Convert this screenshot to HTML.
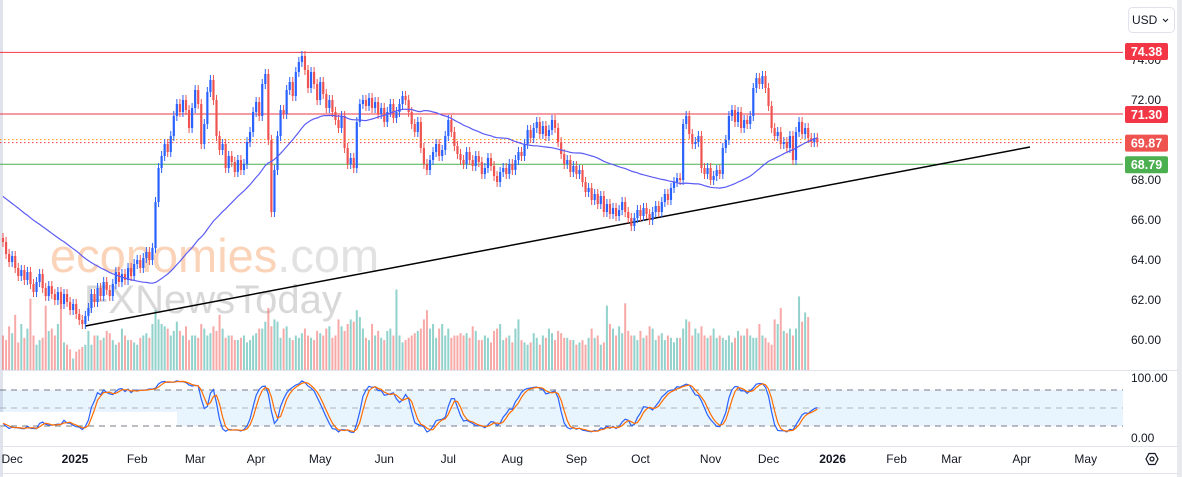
<!DOCTYPE html>
<html><head><meta charset="utf-8"><style>
html,body{margin:0;padding:0;background:#fff;}
body{width:1182px;height:477px;overflow:hidden;font-family:"Liberation Sans",sans-serif;}
</style></head><body>
<svg id="c" width="1182" height="477" viewBox="0 0 1182 477" xmlns="http://www.w3.org/2000/svg" style="position:absolute;left:0;top:0">
<rect x="0" y="0" width="1182" height="477" fill="#fff"/>
<rect x="0" y="0" width="3" height="477" fill="#e0e3eb"/>
<rect x="1177" y="0" width="5" height="477" fill="#e8e9ed"/>
<line x1="0" y1="370.5" x2="1177" y2="370.5" stroke="#e0e3eb"/>
<line x1="0" y1="446.5" x2="1177" y2="446.5" stroke="#e0e3eb"/>
<line x1="0" y1="473.5" x2="1177" y2="473.5" stroke="#e0e3eb"/>
<g id="wm">
<text x="50" y="272" font-size="47" fill="#fbd3b8" font-family="Liberation Sans,sans-serif">economies<tspan fill="#e2e2e2">.com</tspan></text>
<text x="84" y="313" font-size="40" fill="#d8d8d8" font-family="Liberation Sans,sans-serif">FXNewsToday</text>
</g>
<g id="stbg"></g>
<g id="vol"></g>
<g id="lines"></g>
<g id="candles"></g>
<g id="ma"></g>
<g id="stoch"></g>
<g id="axis"></g>
</svg>
<script>
const NS="http://www.w3.org/2000/svg";
// Daily closes Dec 2024 - Dec 2025
const closes=[64.9,64.3,63.9,64.2,63.6,63.2,63.5,
63.0,63.4,62.8,62.4,62.9,63.3,62.6,62.2,62.7,62.3,
62.0,62.4,61.8,62.3,61.9,61.5,61.8,61.3,61.0,60.8,61.2,
61.6,62.3,61.9,62.6,62.2,62.9,62.5,62.2,62.8,63.4,62.9,63.3,
63.0,63.6,63.2,63.8,64.0,63.6,64.1,64.4,64.0,64.6,
66.9,68.6,69.2,
69.8,69.4,70.2,71.2,71.8,71.4,72.0,71.5,70.6,71.6,72.5,71.8,69.8,
70.8,72.4,73.0,72.0,70.2,
69.5,69.8,68.6,69.2,68.9,68.4,69.0,68.5,68.8,69.9,
70.4,71.4,71.9,71.2,72.8,73.3,70.0,66.4,
68.5,70.2,71.5,71.3,72.5,72.9,72.2,73.4,73.9,74.2,
73.5,72.6,73.4,72.8,72.0,72.9,
72.3,71.6,72.0,71.4,71.0,70.6,71.2,
69.6,68.8,69.1,68.6,
70.9,71.8,72.0,71.7,72.1,71.6,
71.9,71.3,71.6,70.9,71.4,71.8,71.1,71.4,71.8,
72.2,72.0,71.4,70.8,70.4,70.9,
69.6,68.8,68.5,69.0,
69.4,69.8,69.2,69.5,
70.2,71.0,70.4,69.7,
69.3,69.0,68.8,69.4,69.0,68.7,69.2,
68.9,68.3,68.6,69.1,68.7,68.2,67.9,68.4,
68.6,68.3,68.8,68.5,69.0,69.4,69.2,
69.8,70.5,70.1,70.6,70.9,70.3,70.7,70.2,70.5,
71.0,70.6,69.9,
69.3,68.8,69.0,68.4,68.7,68.3,68.5,
67.9,67.4,67.6,67.0,67.3,66.8,67.2,
66.4,66.8,66.3,66.6,66.2,66.5,66.9,66.4,66.1,
65.7,66.1,66.5,66.2,66.6,66.3,66.0,66.4,66.7,66.4,
66.9,67.3,67.0,67.6,67.9,68.1,68.0,
70.8,71.2,70.3,69.8,69.9,70.2,
68.6,68.3,68.6,68.0,68.2,68.5,68.3,
69.6,70.0,71.2,71.5,
70.9,71.4,70.6,71.0,70.8,71.2,
72.6,73.1,72.8,73.2,72.6,71.7,
70.6,70.2,70.4,69.8,
69.9,69.6,70.2,69.0,
70.4,70.9,70.3,70.6,70.1,69.9,70.1,69.9];
// Closes before the first visible bar (for moving average / stochastic warm-up)
const history=[70.2,70.0,69.8,70.1,69.5,69.2,69.6,69.0,68.8,69.1,68.5,68.2,68.6,68.0,67.8,68.3,67.9,67.5,67.9,67.3,
67.0,67.4,67.8,67.2,66.9,67.3,67.6,67.1,66.8,67.2,66.7,66.4,66.9,66.5,66.2,66.6,66.0,65.8,66.2,65.7,
65.5,65.9,65.4,65.2,65.6,65.1,65.4,65.0,65.3,65.1];
// Volume (relative units)
const volumes=[30,26,38,32,48,24,40,28,36,62,30,22,26,28,56,34,36,30,40,58,
24,22,18,10,16,18,20,22,34,22,30,30,26,28,34,32,26,22,24,36,
30,26,26,24,22,28,30,32,28,40,52,44,40,38,36,30,34,42,34,30,
38,26,30,30,28,40,36,30,32,38,34,48,36,28,30,30,26,26,28,30,
24,26,30,32,36,36,42,54,38,44,42,28,36,38,28,26,30,28,32,36,
30,28,26,34,32,30,36,38,28,30,44,38,34,40,44,42,52,46,36,28,
26,40,30,34,28,26,34,36,30,70,30,24,26,28,30,32,34,36,44,52,
36,40,28,36,40,30,36,28,30,30,32,30,32,28,38,34,26,26,30,28,
24,34,36,40,26,28,30,24,36,44,26,24,22,24,32,28,22,30,28,36,
32,26,34,32,28,28,26,26,22,24,26,22,28,36,28,30,22,24,56,40,
36,30,38,32,58,34,30,30,26,34,28,30,38,36,26,30,32,26,30,28,
24,28,28,36,44,42,30,36,32,38,30,28,30,36,28,30,28,26,30,24,
28,34,30,30,36,30,28,28,40,30,28,24,22,44,40,54,34,32,36,30,
36,64,42,50,46];
const priceTicks=[74,72,68,66,64,62,60];
const levels=[74.38,71.30,68.79];
const lastPrice=69.87;
const monthLabels=["Dec","2025","Feb","Mar","Apr","May","Jun","Jul","Aug","Sep","Oct","Nov","Dec","2026","Feb","Mar","Apr","May"];
const monthIdx=[3,23.6,44,63,83,104,125,146,167,188,209,232,251,272,293,311,334,355];

const X0=3,DX=3.05,W=2.2;
const xs=i=>X0+DX*i;
const py=p=>100+(72-p)*20;
const sy=v=>438-v*0.6;
const vy0=370, vScale=1.15;

function el(tag,attrs,parent){const e=document.createElementNS(NS,tag);for(const k in attrs)e.setAttribute(k,attrs[k]);parent.appendChild(e);return e;}
const G=id=>document.getElementById(id);

// stochastic band
const sb=G('stbg');
let r=el('rect',{x:0,y:sy(80),width:1123,height:sy(20)-sy(80),fill:'#2196f3','fill-opacity':0.1},sb);


r=el('rect',{x:0,y:412,width:177,height:15,fill:'#fff'},sb);


[80,50,20].forEach(v=>{
 const l=el('line',{x1:0,x2:1123,y1:sy(v),y2:sy(v),stroke:v===50?'#b2b5be':'#787b86','stroke-dasharray':'6,5'},sb);
 
 
});

// OHLC derived
const opens=closes.map((c,i)=>i===0?history[history.length-1]:closes[i-1]);
const highs=closes.map((c,i)=>Math.max(c,opens[i])+0.25);
const lows=closes.map((c,i)=>Math.min(c,opens[i])-0.25);

// volume
const vg=G('vol');
volumes.forEach((v,i)=>{
 const up=closes[i]>=opens[i];
 const h=v*vScale;
 const b=el('rect',{x:xs(i)-1,y:vy0-h,width:2,height:h,fill:up?'#26a69a':'#ef5350','fill-opacity':0.5},vg);
 
 
});

// horizontal levels
const lg=G('lines');
const colors=['#f23645','#f23645','#4caf50'];
levels.forEach((p,k)=>{
 const l=el('line',{x1:0,x2:1123,y1:py(p),y2:py(p),stroke:colors[k],'stroke-width':1},lg);
 
 
});
let dl=el('line',{x1:0,x2:1123,y1:py(lastPrice)-3,y2:py(lastPrice)-3,stroke:'#ff9800','stroke-dasharray':'1.5,2.5'},lg);


dl=el('line',{x1:0,x2:1123,y1:py(lastPrice),y2:py(lastPrice),stroke:'#f23645','stroke-dasharray':'1.5,2.5'},lg);


const tl=el('line',{x1:xs(27),y1:py(60.7),x2:1030,y2:py(69.65),stroke:'#000','stroke-width':1.5},lg);



// candles
const cg=G('candles');
closes.forEach((c,i)=>{
 const o=opens[i],up=c>=o,col=up?'#2962ff':'#ef5350',x=xs(i);
 const g=el('g',{},cg);
 
 
 el('line',{x1:x,x2:x,y1:py(highs[i]),y2:py(lows[i]),stroke:col,'stroke-width':1},g);
 const t=Math.min(py(o),py(c)),h=Math.max(1,Math.abs(py(o)-py(c)));
 el('rect',{x:x-W/2,y:t,width:W,height:h,fill:col},g);
});

// moving average 50
const all=history.concat(closes);
let pts=[];
closes.forEach((c,i)=>{const j=i+history.length;let s=0,n=0;for(let k=Math.max(0,j-49);k<=j;k++){s+=all[k];n++;}pts.push(xs(i).toFixed(1)+','+py(s/n).toFixed(1));});
const ma=el('polyline',{points:pts.join(' '),fill:'none',stroke:'#5b5bf5','stroke-width':1.2},G('ma'));



// stochastic 14,3,3
const hiA=all.map(v=>v+0.4),loA=all.map(v=>v-0.4);
const raw=all.map((c,j)=>{let h=-1e9,l=1e9;for(let k=Math.max(0,j-13);k<=j;k++){h=Math.max(h,hiA[k]);l=Math.min(l,loA[k]);}return h===l?50:100*(c-l)/(h-l);});
const sma=(a,n)=>a.map((v,j)=>{let s=0,m=0;for(let k=Math.max(0,j-n+1);k<=j;k++){s+=a[k];m++;}return s/m;});
const K=sma(raw,3),D=sma(K,3);
const off=history.length;
const kp=closes.map((c,i)=>xs(i).toFixed(1)+','+sy(K[i+off]).toFixed(1)).join(' ');
const dp=closes.map((c,i)=>xs(i).toFixed(1)+','+sy(D[i+off]).toFixed(1)).join(' ');
let sl=el('polyline',{points:kp,fill:'none',stroke:'#2962ff','stroke-width':1.2},G('stoch'));


sl=el('polyline',{points:dp,fill:'none',stroke:'#ff6d00','stroke-width':1.2},G('stoch'));



// axes
const ag=G('axis');
priceTicks.forEach(p=>{
 const t=el('text',{x:1131,y:py(p)+4,'font-size':12,fill:'#131722'},ag);
 t.textContent=p.toFixed(2);
 
 
});
[[100,'100.00'],[0,'0.00']].forEach(([v,s])=>{
 const t=el('text',{x:1131,y:sy(v)+4,'font-size':12,fill:'#131722'},ag);
 t.textContent=s;
 
 
});
const tagC=['#f23645','#f23645','#4caf50'];
levels.concat([lastPrice]).forEach((p,k)=>{
 const col=k<3?tagC[k]:'#ef5350';
 let yy=py(p); if(k===0) yy=51;
 const g=el('g',{},ag);
 
 
 el('rect',{x:1125,y:yy-8,width:43,height:17,rx:2,fill:col},g);
 const t=el('text',{x:1146.5,y:yy+5,'font-size':12.5,'font-weight':'bold',fill:'#fff','text-anchor':'middle'},g);
 t.textContent=p.toFixed(2);
});
monthLabels.forEach((m,k)=>{
 const t=el('text',{x:xs(monthIdx[k]),y:463,'font-size':12,fill:'#131722','text-anchor':'middle','font-weight':(m==='2025'||m==='2026')?'bold':'normal'},ag);
 t.textContent=m;
 
 
});
// USD button
const ub=el('g',{},ag);


el('rect',{x:1128.5,y:7.5,width:46,height:25,rx:4,fill:'#fff',stroke:'#e0e3eb'},ub);
let ut=el('text',{x:1132,y:24,'font-size':12,fill:'#131722'},ub);ut.textContent='USD';
el('path',{d:'M1163 19 l2.5 2.5 l2.5 -2.5',fill:'none',stroke:'#131722','stroke-width':1},ub);
// settings icon
const gi=el('g',{},ag);


el('path',{d:'M1146 459 l3 -5.5 h6 l3 5.5 l-3 5.5 h-6 z',fill:'none',stroke:'#131722','stroke-width':1.2},gi);
el('circle',{cx:1152,cy:459,r:2,fill:'none',stroke:'#131722','stroke-width':1.2},gi);
</script>
</body></html>
